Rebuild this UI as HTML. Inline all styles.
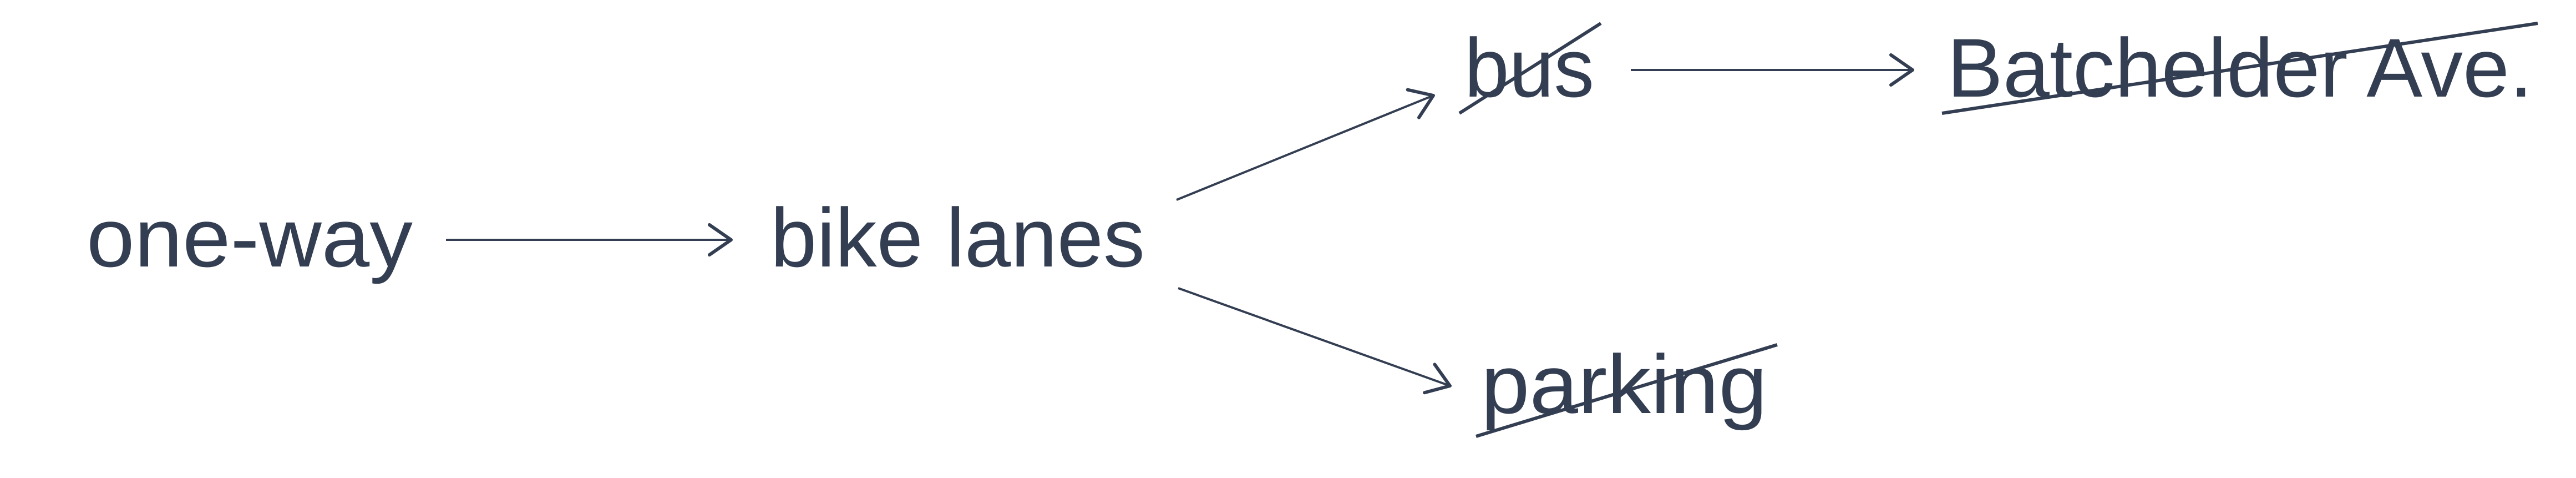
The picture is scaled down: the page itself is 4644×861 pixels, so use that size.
<!DOCTYPE html>
<html><head><meta charset="utf-8"><style>
html,body{margin:0;padding:0;background:#fff;}
svg{display:block;}
text{font-family:"Liberation Sans",sans-serif;font-size:150px;fill:#333e52;}
</style></head><body>
<svg width="4644" height="861" viewBox="0 0 4644 861" xmlns="http://www.w3.org/2000/svg">
<defs>
<marker id="a" viewBox="0 0 10 10" refX="9" refY="5" markerWidth="10" markerHeight="10" markerUnits="userSpaceOnUse" orient="auto" overflow="visible">
<path d="M-30,-22 L9,5 L-30,32" transform="translate(0,0)" fill="none" stroke="#333e52" stroke-width="6" stroke-linejoin="round" stroke-linecap="round"/>
</marker>
</defs>
<g stroke="#333e52" stroke-width="4" fill="none">
<line x1="804" y1="432" x2="1318" y2="432" marker-end="url(#a)"/>
<line x1="2121" y1="360" x2="2584" y2="172" marker-end="url(#a)"/>
<line x1="2124" y1="519" x2="2614" y2="695" marker-end="url(#a)"/>
<line x1="2940" y1="126" x2="3448" y2="126" marker-end="url(#a)"/>
</g>
<text x="156" y="480" textLength="588" lengthAdjust="spacingAndGlyphs">one-way</text>
<text x="1389" y="480" textLength="675" lengthAdjust="spacingAndGlyphs">bike lanes</text>
<text x="2640" y="174" textLength="234" lengthAdjust="spacingAndGlyphs">bus</text>
<text x="3510" y="174" textLength="1056" lengthAdjust="spacingAndGlyphs">Batchelder Ave.</text>
<text x="2670" y="744" textLength="516" lengthAdjust="spacingAndGlyphs">parking</text>
<g stroke="#333e52" stroke-width="6">
<line x1="2631" y1="204" x2="2886" y2="42"/>
<line x1="3501" y1="204" x2="4575" y2="42"/>
<line x1="2661" y1="786" x2="3204" y2="621"/>
</g>
</svg>
</body></html>
